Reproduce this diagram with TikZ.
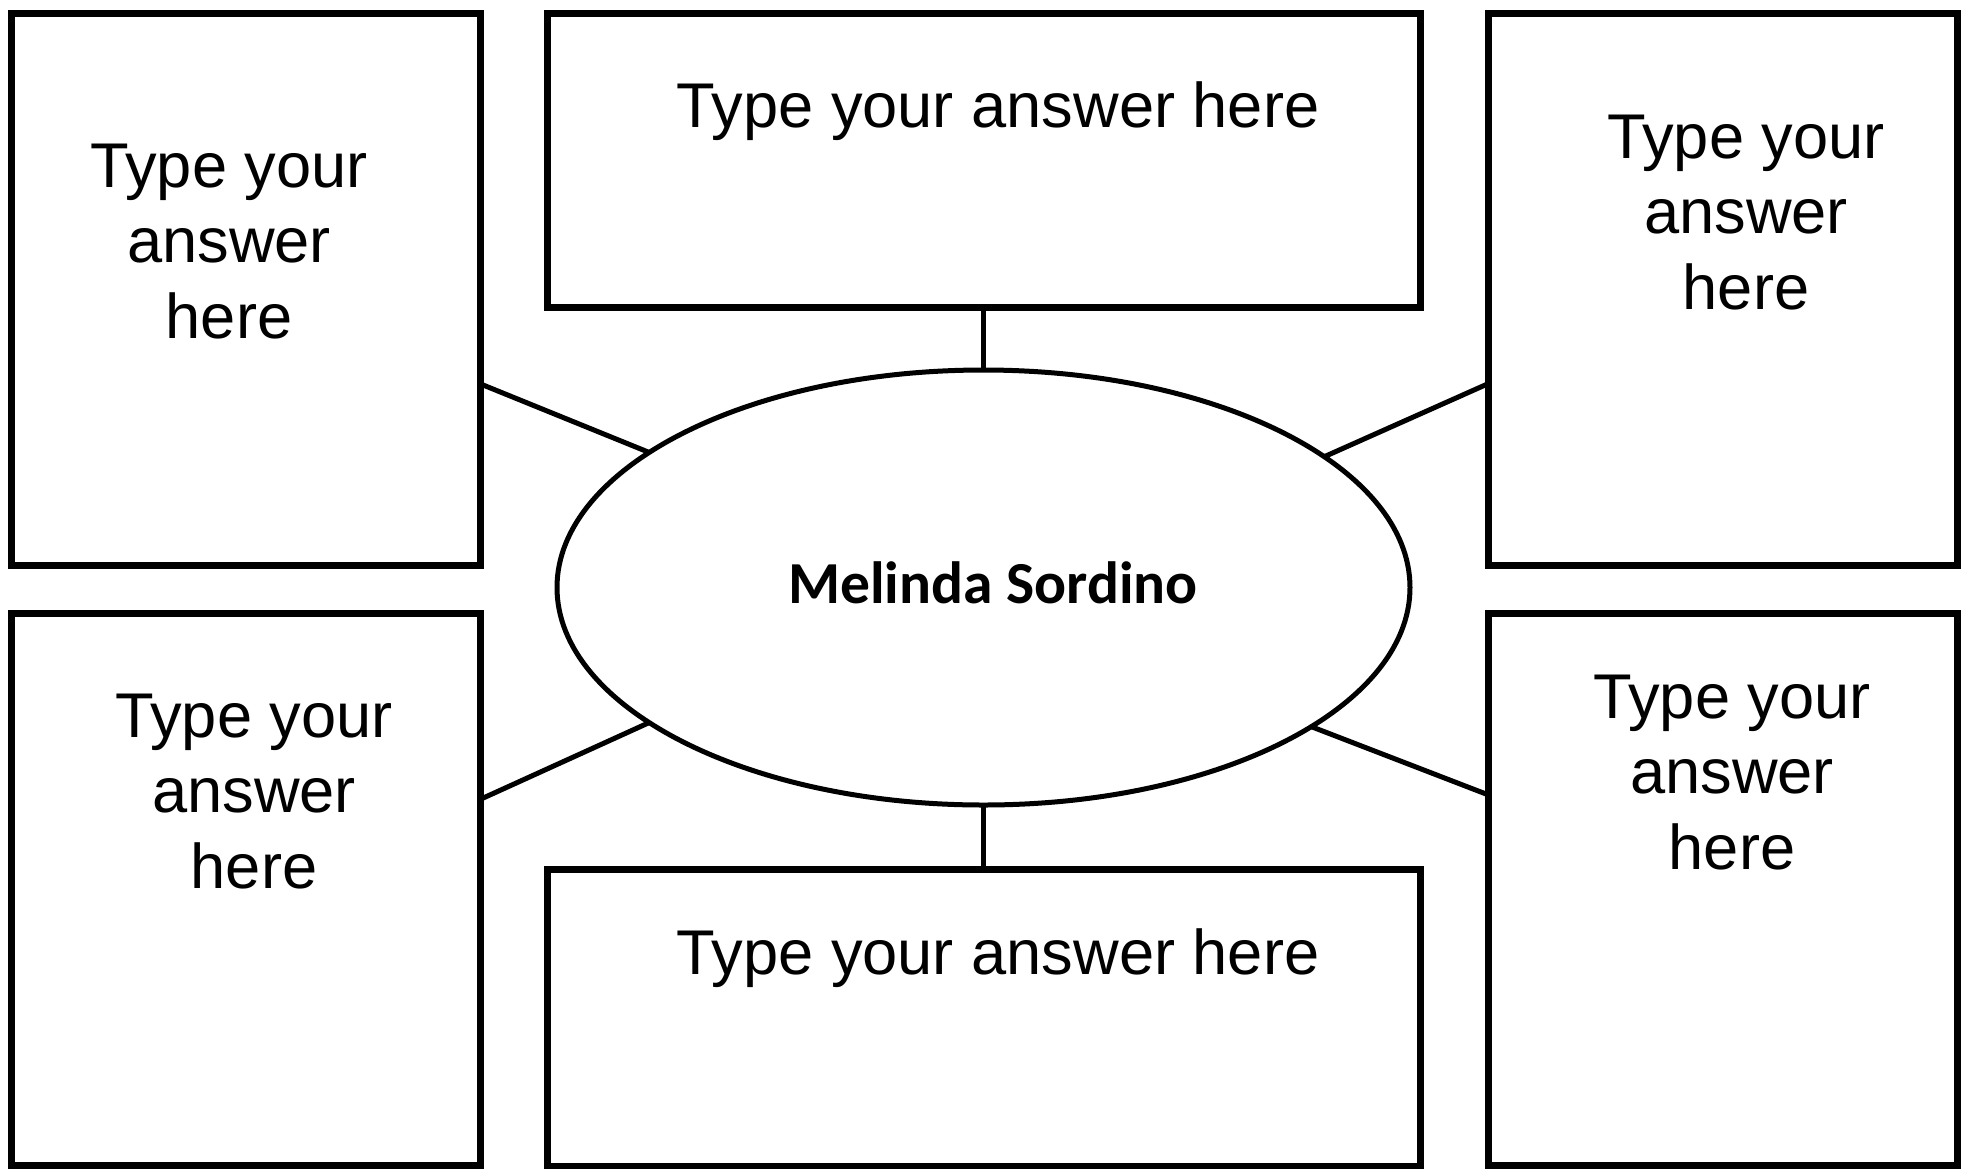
\documentclass[tikz,border=0pt]{standalone}
\usepackage{fontspec}
\setmainfont{Liberation Sans}
\newfontfamily\calibrifont{Carlito}
\usetikzlibrary{shapes.geometric}
\begin{document}
\begin{tikzpicture}[x=0.5pt,y=-0.5pt,
  box/.style={draw, line width=3.5pt, inner sep=0pt, outer sep=0pt},
  sidebox/.style={box, minimum width=234.5pt, minimum height=276pt},
  widebox/.style={box, minimum width=436.5pt},
  ans/.style={align=center, font=\fontsize{31.6}{37.75}\selectfont, inner sep=0pt, anchor=base},
  conn/.style={line width=2.5pt}]
\useasboundingbox (0,0) rectangle (1965,1168);
% boxes
\node[sidebox] (tl) at (245.5,289) {};
\node[widebox, minimum height=147pt] (tc) at (983.5,160) {};
\node[sidebox] (tr) at (1722.5,289) {};
\node[sidebox] (bl) at (245.5,889.5) {};
\node[widebox, minimum height=148.5pt] (bc) at (983.5,1017.5) {};
\node[sidebox] (br) at (1722.5,889.5) {};
% centre ellipse
\node[ellipse, draw, line width=2.5pt, minimum width=426.5pt, minimum height=217.5pt, inner sep=0pt, outer sep=0pt] (c) at (983.5,587.5) {};
\node[font=\calibrifont\bfseries\fontsize{29.8}{36}\selectfont, inner sep=0pt, anchor=base] (name) at (993,603) {Melinda Sordino};
% texts (anchor = baseline of the last line)
\node[ans] (ttl) at (229,338) {Type your\\answer\\here};
\node[ans] (ttc) at (998,127) {Type your answer here};
\node[ans] (ttr) at (1746,309) {Type your\\answer\\here};
\node[ans] (tbl) at (254,888) {Type your\\answer\\here};
\node[ans] (tbc) at (998,974) {Type your answer here};
\node[ans] (tbr) at (1732,869) {Type your\\answer\\here};
% connectors
\draw[conn] (tc.south) -- (c.north);
\draw[conn] (bc.north) -- (c.south);
\draw[conn] (tl.-22.47) -- (c.158.1);
\draw[conn] (tr.202.47) -- (c.21.9);
\draw[conn] (bl.21.95) -- (c.202.2);
\draw[conn] (br.158.05) -- (c.337.8);
\end{tikzpicture}
\end{document}
